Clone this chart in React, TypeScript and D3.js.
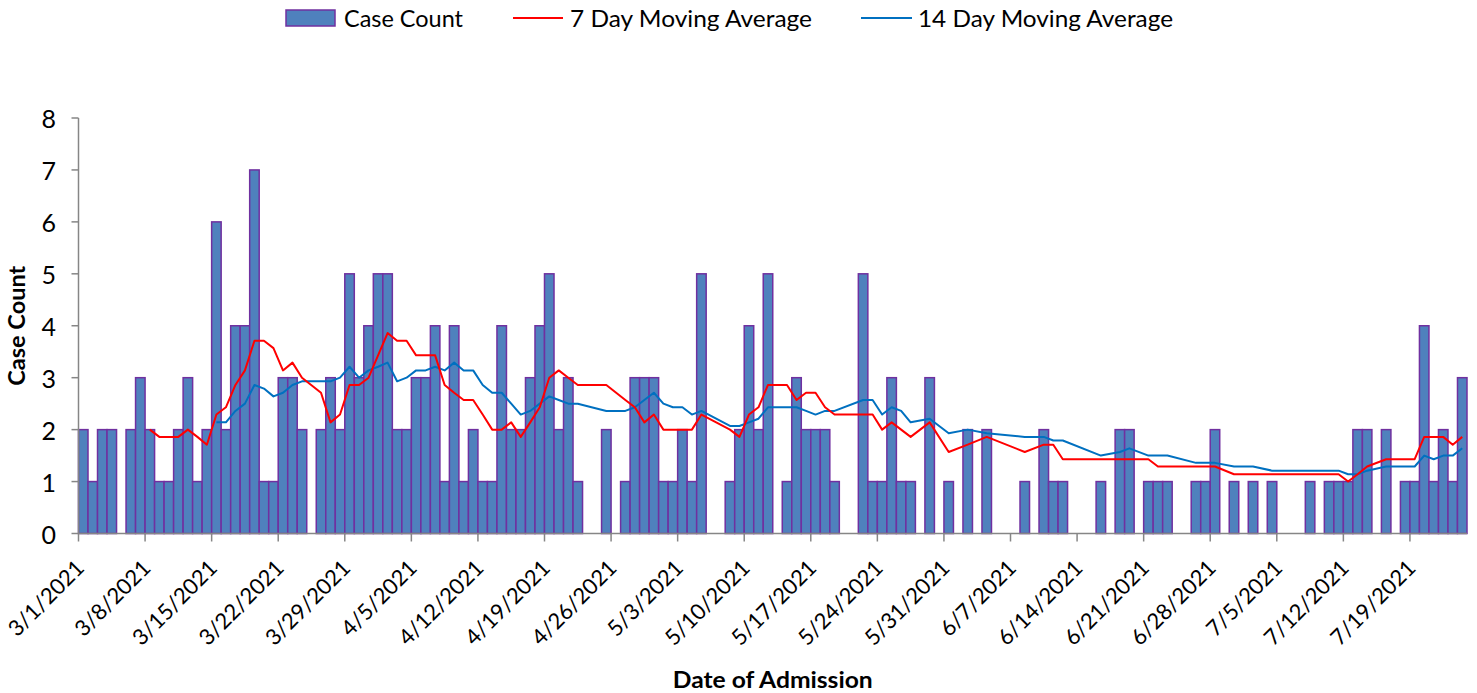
import React from "react";
import * as d3 from "d3";

const caseCounts: number[] = [
  2, 1, 2, 2, 0, 2, 3, 2, 1, 1,
  2, 3, 1, 2, 6, 2, 4, 4, 7, 1,
  1, 3, 3, 2, 0, 2, 3, 2, 5, 3,
  4, 5, 5, 2, 2, 3, 3, 4, 1, 4,
  1, 2, 1, 1, 4, 2, 2, 3, 4, 5,
  2, 3, 1, 0, 0, 2, 0, 1, 3, 3,
  3, 1, 1, 2, 1, 5, 0, 0, 1, 2,
  4, 2, 5, 0, 1, 3, 2, 2, 2, 1,
  0, 0, 5, 1, 1, 3, 1, 1, 0, 3,
  0, 1, 0, 2, 0, 2, 0, 0, 0, 1,
  0, 2, 1, 1, 0, 0, 0, 1, 0, 2,
  2, 0, 1, 1, 1, 0, 0, 1, 1, 2,
  0, 1, 0, 1, 0, 1, 0, 0, 0, 1,
  0, 1, 1, 1, 2, 2, 0, 2, 0, 1,
  1, 4, 1, 2, 1, 3,
];

const n = null;
const ma7: (number | null)[] = [
  n, n, n, n, n, n, n, 2.0, 1.86, 1.86,
  1.86, 2.0, 1.86, 1.71, 2.29, 2.43, 2.86, 3.14, 3.71, 3.71,
  3.57, 3.14, 3.29, 3.0, n, 2.71, 2.14, 2.29, 2.86, 2.86,
  3.0, 3.43, 3.86, 3.71, 3.71, 3.43, 3.43, 3.43, 2.86, 2.71,
  2.57, 2.57, 2.29, 2.0, 2.0, 2.14, 1.86, 2.14, 2.43, 3.0,
  3.14, 3.0, 2.86, n, n, 2.86, n, 2.57, 2.43, 2.14,
  2.29, 2.0, 2.0, 2.0, 2.0, 2.29, n, n, 2.0, 1.86,
  2.29, 2.43, 2.86, n, 2.86, 2.57, 2.71, 2.71, 2.43, 2.29,
  n, n, 2.29, 2.29, 2.0, 2.14, 2.0, 1.86, n, 2.14,
  n, 1.57, n, 1.71, n, 1.86, n, n, n, 1.57,
  n, 1.71, 1.71, 1.43, n, n, n, 1.43, n, 1.43,
  1.43, n, 1.43, 1.29, 1.29, n, n, 1.29, 1.29, 1.29,
  n, 1.14, n, 1.14, n, 1.14, n, n, n, 1.14,
  n, 1.14, 1.14, 1.0, 1.14, 1.29, n, 1.43, n, 1.43,
  1.43, 1.86, 1.86, 1.86, 1.71, 1.86,
];

const ma14: (number | null)[] = [
  n, n, n, n, n, n, n, n, n, n,
  n, n, n, n, 2.14, 2.14, 2.36, 2.5, 2.86, 2.79,
  2.64, 2.71, 2.86, 2.93, n, 2.93, 2.93, 3.0, 3.21, 3.0,
  3.14, 3.21, 3.29, 2.93, 3.0, 3.14, 3.14, 3.21, 3.14, 3.29,
  3.14, 3.14, 2.86, 2.71, 2.71, 2.5, 2.29, 2.36, 2.5, 2.64,
  2.57, 2.5, 2.5, n, n, 2.36, n, 2.36, 2.43, 2.57,
  2.71, 2.5, 2.43, 2.43, 2.29, 2.36, n, n, 2.07, 2.07,
  2.14, 2.21, 2.43, n, 2.43, 2.43, 2.36, 2.29, 2.36, 2.36,
  n, n, 2.57, 2.57, 2.29, 2.43, 2.36, 2.14, n, 2.21,
  n, 1.93, n, 2.0, n, 1.93, n, n, n, 1.86,
  n, 1.86, 1.79, 1.79, n, n, n, 1.5, n, 1.57,
  1.64, n, 1.5, 1.5, 1.5, n, n, 1.36, 1.36, 1.36,
  n, 1.29, n, 1.29, n, 1.21, n, n, n, 1.21,
  n, 1.21, 1.21, 1.14, 1.14, 1.21, n, 1.29, n, 1.29,
  1.29, 1.5, 1.43, 1.5, 1.5, 1.64,
];

const tickLabels: string[] = [
  "3/1/2021", "3/8/2021", "3/15/2021", "3/22/2021", "3/29/2021",
  "4/5/2021", "4/12/2021", "4/19/2021", "4/26/2021", "5/3/2021",
  "5/10/2021", "5/17/2021", "5/24/2021", "5/31/2021", "6/7/2021",
  "6/14/2021", "6/21/2021", "6/28/2021", "7/5/2021", "7/12/2021",
  "7/19/2021",
];
const yTicks: number[] = [0, 1, 2, 3, 4, 5, 6, 7, 8];

const FONT = "Lato, 'Open Sans', sans-serif";
const AXIS = "#868686";

export default function App() {
  const left = 78.5;
  const right = 1467;
  const top = 118;
  const bottom = 533.5;

  const days = caseCounts.map((_, i) => i);
  const x = d3.scaleBand<number>().domain(days).range([left, right]).padding(0);
  const y = d3.scaleLinear().domain([0, 8]).range([bottom, top]);
  const bw = x.bandwidth();

  const mkLine = (arr: (number | null)[]) => {
    const pts = arr
      .map((v, i) => ({ i, v }))
      .filter((d) => d.v !== null) as { i: number; v: number }[];
    return d3
      .line<{ i: number; v: number }>()
      .x((d) => (x(d.i) as number) + bw / 2)
      .y((d) => y(d.v))(pts) as string;
  };

  return (
    <svg
      width={1477}
      height={693}
      style={{ position: "absolute", left: 0, top: 0, background: "#fff" }}
      fontFamily={FONT}
    >
      {/* Legend */}
      <g>
        <rect x={286} y={10} width={49} height={16} fill="#4F81BD" stroke="#7030A0" strokeWidth={1.5} />
        <text x={344} y={27} fontSize={23} fill="#000" textLength={119} lengthAdjust="spacingAndGlyphs">
          Case Count
        </text>
        <line x1={513} x2={563} y1={18} y2={18} stroke="#FF0000" strokeWidth={2} />
        <text x={570} y={27} fontSize={23} fill="#000" textLength={242} lengthAdjust="spacingAndGlyphs">
          7 Day Moving Average
        </text>
        <line x1={861} x2={912} y1={18} y2={18} stroke="#0070C0" strokeWidth={2} />
        <text x={918} y={27} fontSize={23} fill="#000" textLength={255} lengthAdjust="spacingAndGlyphs">
          14 Day Moving Average
        </text>
      </g>

      {/* Bars */}
      <g>
        {caseCounts.map((v, i) =>
          v > 0 ? (
            <rect
              key={i}
              x={x(i) as number}
              y={y(v)}
              width={bw}
              height={y(0) - y(v)}
              fill="#4F81BD"
              stroke="#7030A0"
              strokeWidth={1.5}
            />
          ) : null
        )}
      </g>

      {/* Lines */}
      <path d={mkLine(ma14)} fill="none" stroke="#0070C0" strokeWidth={2} strokeLinejoin="round" />
      <path d={mkLine(ma7)} fill="none" stroke="#FF0000" strokeWidth={2} strokeLinejoin="round" />

      {/* Y axis */}
      <g>
        <line x1={left} x2={left} y1={top} y2={bottom} stroke={AXIS} strokeWidth={1.5} />
        {yTicks.map((t) => (
          <g key={t}>
            <line x1={left - 7} x2={left} y1={y(t)} y2={y(t)} stroke={AXIS} strokeWidth={1.5} />
            <text x={56} y={y(t)} textAnchor="end" dominantBaseline="central" fontSize={25} fill="#000">
              {t}
            </text>
          </g>
        ))}
      </g>

      {/* X axis */}
      <g>
        <line x1={left} x2={right} y1={bottom} y2={bottom} stroke={AXIS} strokeWidth={1.5} />
        {tickLabels.map((lab, k) => {
          const xi = x(k * 7) as number;
          return (
            <g key={lab}>
              <line x1={xi} x2={xi} y1={bottom} y2={bottom + 8} stroke={AXIS} strokeWidth={1.5} />
              <text
                transform={`translate(${xi + 7},${bottom + 36}) rotate(-45)`}
                textAnchor="end"
                fontSize={22}
                fill="#000"
              >
                {lab}
              </text>
            </g>
          );
        })}
      </g>

      {/* Axis titles */}
      <text
        transform={`translate(25,${(top + bottom) / 2}) rotate(-90)`}
        textAnchor="middle"
        fontSize={23}
        fontWeight="bold"
        fill="#000"
        textLength={120}
        lengthAdjust="spacingAndGlyphs"
      >
        Case Count
      </text>
      <text
        x={(left + right) / 2}
        y={688}
        textAnchor="middle"
        fontSize={23}
        fontWeight="bold"
        fill="#000"
        textLength={200}
        lengthAdjust="spacingAndGlyphs"
      >
        Date of Admission
      </text>
    </svg>
  );
}
